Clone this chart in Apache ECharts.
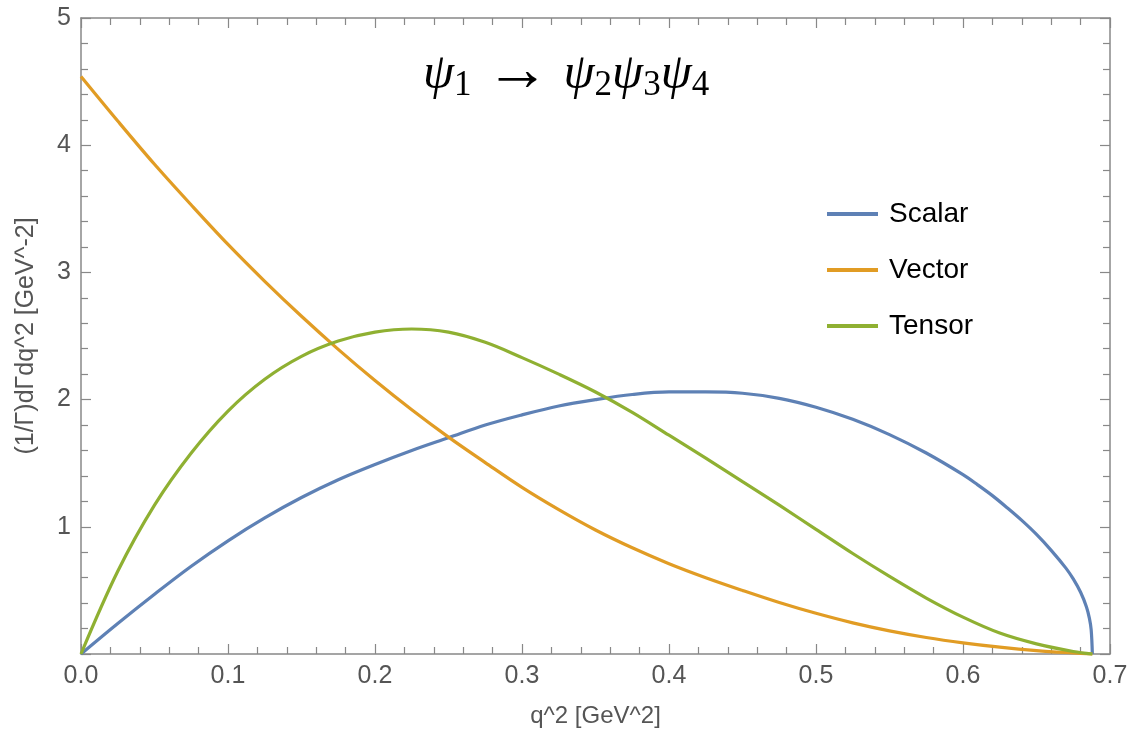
<!DOCTYPE html>
<html>
<head>
<meta charset="utf-8">
<title>psi decay q^2 distribution</title>
<script src="https://cdn.jsdelivr.net/npm/echarts@6/dist/echarts.min.js"></script>
<style>
  html, body { margin: 0; padding: 0; background: #fff; }
  #chart { width: 1147px; height: 733px; }
</style>
</head>
<body>
<div id="chart"></div>
<script>
// q^2 grid (GeV^2) shared by Vector and Tensor
const qGrid = [0, 0.025, 0.05, 0.075, 0.1, 0.125, 0.15, 0.175, 0.2, 0.225, 0.25, 0.275,
  0.3, 0.325, 0.35, 0.375, 0.4, 0.425, 0.45, 0.475, 0.5, 0.525, 0.55, 0.575, 0.6,
  0.625, 0.65, 0.675, 0.688];
const vectorVals = [4.54, 4.19, 3.85, 3.53, 3.22, 2.93, 2.655, 2.395, 2.15, 1.92, 1.705, 1.505,
  1.31, 1.135, 0.975, 0.835, 0.71, 0.60, 0.50, 0.405, 0.32, 0.245, 0.182, 0.13, 0.088,
  0.054, 0.027, 0.008, 0];
const tensorVals = [0, 0.65, 1.17, 1.58, 1.91, 2.16, 2.34, 2.46, 2.53, 2.555, 2.53, 2.45,
  2.33, 2.20, 2.06, 1.90, 1.72, 1.54, 1.355, 1.17, 0.98, 0.79, 0.61, 0.44, 0.29,
  0.165, 0.08, 0.02, 0];
// Scalar drops almost vertically at the end, so it gets a finer tail
const qScalar = [0, 0.025, 0.05, 0.075, 0.1, 0.125, 0.15, 0.175, 0.2, 0.225, 0.25, 0.275,
  0.3, 0.325, 0.35, 0.375, 0.4, 0.425, 0.45, 0.475, 0.5, 0.525, 0.55, 0.575, 0.6,
  0.61, 0.62, 0.63, 0.64, 0.65, 0.66, 0.67, 0.675, 0.68, 0.684, 0.686, 0.6872, 0.688];
const scalarVals = [0, 0.24, 0.47, 0.69, 0.89, 1.07, 1.23, 1.37, 1.49, 1.60, 1.70, 1.80,
  1.88, 1.95, 2.00, 2.04, 2.06, 2.06, 2.05, 2.01, 1.94, 1.845, 1.725, 1.58, 1.41,
  1.33, 1.245, 1.15, 1.05, 0.94, 0.815, 0.675, 0.59, 0.485, 0.37, 0.28, 0.19, 0];

const seriesNames = ["Scalar", "Vector", "Tensor"];
const seriesColors = ["#5E81B5", "#E19C24", "#8FB032"];

const pairs = (xs, ys) => xs.map((x, i) => [x, ys[i]]);

const frameColor = "#888888";
const labelColor = "#555555";
const font = "Liberation Sans";
const serif = "Liberation Serif";

// shared axis pieces (frame with inward ticks on all four sides)
const tickPart = {
  axisLine: { show: true, onZero: false, lineStyle: { color: frameColor, width: 1.5 } },
  axisTick: { show: true, inside: true, length: 10, lineStyle: { color: frameColor, width: 1.2 } },
  minorTick: { show: true, splitNumber: 5, length: 7, lineStyle: { color: frameColor, width: 1.2 } },
  splitLine: { show: false },
};

const chart = echarts.init(document.getElementById("chart"));

const option = {
  backgroundColor: "#fff",
  animation: false,
  title: {
    text: "{p|ψ}{s|1}{a|→}{p|ψ}{s|2}{p|ψ}{s|3}{p|ψ}{s|4}",
    left: 418,
    top: 36,
    textStyle: {
      rich: {
        p: { fontFamily: serif, fontStyle: "italic", fontWeight: "normal", fontSize: 50, color: "#000" },
        s: { fontFamily: serif, fontWeight: "normal", fontSize: 35, color: "#000", padding: [22, 0, 0, 0] },
        a: { fontFamily: serif, fontWeight: "normal", fontSize: 64, color: "#000", padding: [0, 14, 4, 14] },
      },
    },
  },
  legend: {
    orient: "vertical",
    left: 822,
    top: 195,
    itemWidth: 51,
    itemHeight: 4,
    itemGap: 28,
    icon: "rect",
    data: seriesNames,
    textStyle: { fontFamily: font, fontSize: 28, color: "#000", padding: [0, 0, 0, 6] },
  },
  grid: { left: 81, right: 37, top: 18, bottom: 79 },
  xAxis: [
    {
      type: "value",
      min: 0,
      max: 0.7,
      interval: 0.1,
      name: "q^2 [GeV^2]",
      nameLocation: "middle",
      nameGap: 50,
      nameTextStyle: { fontFamily: font, fontSize: 24, color: labelColor },
      axisLabel: {
        margin: 10,
        fontFamily: font,
        fontSize: 25,
        color: labelColor,
        formatter: (v) => v.toFixed(1),
      },
      ...tickPart,
    },
    {
      type: "value",
      position: "top",
      min: 0,
      max: 0.7,
      interval: 0.1,
      axisLabel: { show: false },
      ...tickPart,
    },
  ],
  yAxis: [
    {
      type: "value",
      min: 0,
      max: 5,
      interval: 1,
      name: "(1/Γ)dΓdq^2 [GeV^-2]",
      nameLocation: "middle",
      nameGap: 42,
      nameRotate: 90,
      nameTextStyle: { fontFamily: font, fontSize: 25, color: labelColor },
      axisLabel: {
        margin: 10,
        fontFamily: font,
        fontSize: 25,
        color: labelColor,
        formatter: (v) => (v === 0 ? "" : String(v)),
      },
      ...tickPart,
    },
    {
      type: "value",
      position: "right",
      min: 0,
      max: 5,
      interval: 1,
      axisLabel: { show: false },
      ...tickPart,
    },
  ],
  series: [
    [qScalar, scalarVals],
    [qGrid, vectorVals],
    [qGrid, tensorVals],
  ].map(([xs, ys], i) => ({
    name: seriesNames[i],
    type: "line",
    xAxisIndex: 0,
    yAxisIndex: 0,
    data: pairs(xs, ys),
    showSymbol: false,
    smooth: 0.35,
    clip: false,
    color: seriesColors[i],
    lineStyle: { width: 3.2, color: seriesColors[i] },
  })),
};

chart.setOption(option);
</script>
</body>
</html>
